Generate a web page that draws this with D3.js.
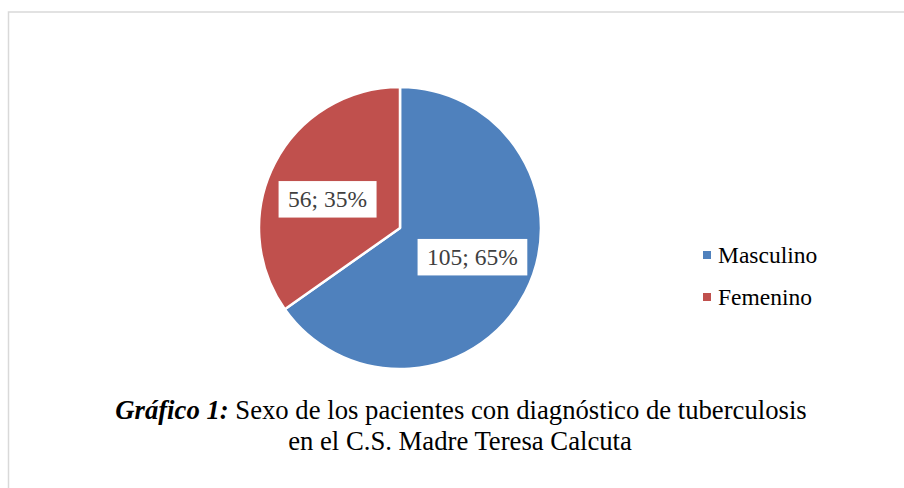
<!DOCTYPE html>
<html>
<head>
<meta charset="utf-8">
<script src="https://cdn.jsdelivr.net/npm/d3@7"></script>
<style>
  body { margin: 0; background: #fff; }
  text { font-family: "Liberation Serif", "Times New Roman", serif; }
</style>
</head>
<body>
<div id="chart"></div>
<script>
// data
const categories = ["Masculino", "Femenino"];
const values = [105, 56];
const percents = [65, 35];
const colors = ["#4F81BD", "#C0504D"];

const width = 904;
const height = 488;
const cx = 400, cy = 228, radius = 141;

const svg = d3.select("#chart")
    .append("svg")
    .attr("width", width)
    .attr("height", height);

// chart area border
svg.append("rect")
    .attr("x", 8.5)
    .attr("y", 12)
    .attr("width", width)
    .attr("height", height)
    .attr("fill", "none")
    .attr("stroke", "#d9d9d9")
    .attr("stroke-width", 1.5);

const pie = d3.pie().sort(null).value(d => d.value);
const arcs = pie(categories.map((c, i) => ({name: c, value: values[i], pct: percents[i]})));

const arc = d3.arc().innerRadius(0).outerRadius(radius);
const labelArc = d3.arc().innerRadius(78).outerRadius(78);
const shift = -0.098; // word-style label placement, slightly counter-clockwise

const color = d3.scaleOrdinal().domain(categories).range(colors);

const g = svg.append("g").attr("transform", `translate(${cx},${cy})`);

g.selectAll("path")
    .data(arcs)
    .join("path")
        .attr("d", arc)
        .attr("fill", d => color(d.data.name))
        .attr("stroke", "#fff")
        .attr("stroke-width", 2.5)
        .attr("stroke-linejoin", "round");

// data labels in white boxes
const labels = g.selectAll("g.lbl")
    .data(arcs)
    .join("g")
        .attr("class", "lbl")
        .attr("transform", d => {
            const [x, y] = labelArc.centroid({startAngle: d.startAngle + shift, endAngle: d.endAngle + shift});
            return `translate(${x},${y})`;
        });

labels.append("text")
    .attr("text-anchor", "middle")
    .attr("dy", "0.34em")
    .attr("font-size", 23.5)
    .attr("fill", "#404040")
    .text(d => `${d.data.value}; ${d.data.pct}%`);

labels.each(function() {
    const t = d3.select(this).select("text");
    const b = t.node().getBBox();
    d3.select(this).insert("rect", "text")
        .attr("x", b.x - 9.5)
        .attr("y", -18)
        .attr("width", b.width + 19)
        .attr("height", 36.5)
        .attr("fill", "#fff");
});

// legend
const legend = svg.append("g").attr("transform", "translate(703,255)");
const items = legend.selectAll("g")
    .data(categories)
    .join("g")
        .attr("transform", (d, i) => `translate(0,${i * 42})`);

items.append("rect")
    .attr("x", 0)
    .attr("y", -4)
    .attr("width", 8)
    .attr("height", 8)
    .attr("fill", d => color(d));

items.append("text")
    .attr("x", 15)
    .attr("y", 7.5)
    .attr("font-size", 23.5)
    .attr("fill", "#000")
    .text(d => d);

// caption
const cap1 = svg.append("text")
    .attr("x", 461)
    .attr("y", 419)
    .attr("text-anchor", "middle")
    .attr("font-size", 26.7)
    .attr("fill", "#000");
cap1.append("tspan")
    .attr("font-weight", "bold")
    .attr("font-style", "italic")
    .text("Gráfico 1:");
cap1.append("tspan").text(" Sexo de los pacientes con diagnóstico de tuberculosis");

svg.append("text")
    .attr("x", 460)
    .attr("y", 450)
    .attr("text-anchor", "middle")
    .attr("font-size", 26.7)
    .attr("fill", "#000")
    .text("en el C.S. Madre Teresa Calcuta");
</script>
</body>
</html>
